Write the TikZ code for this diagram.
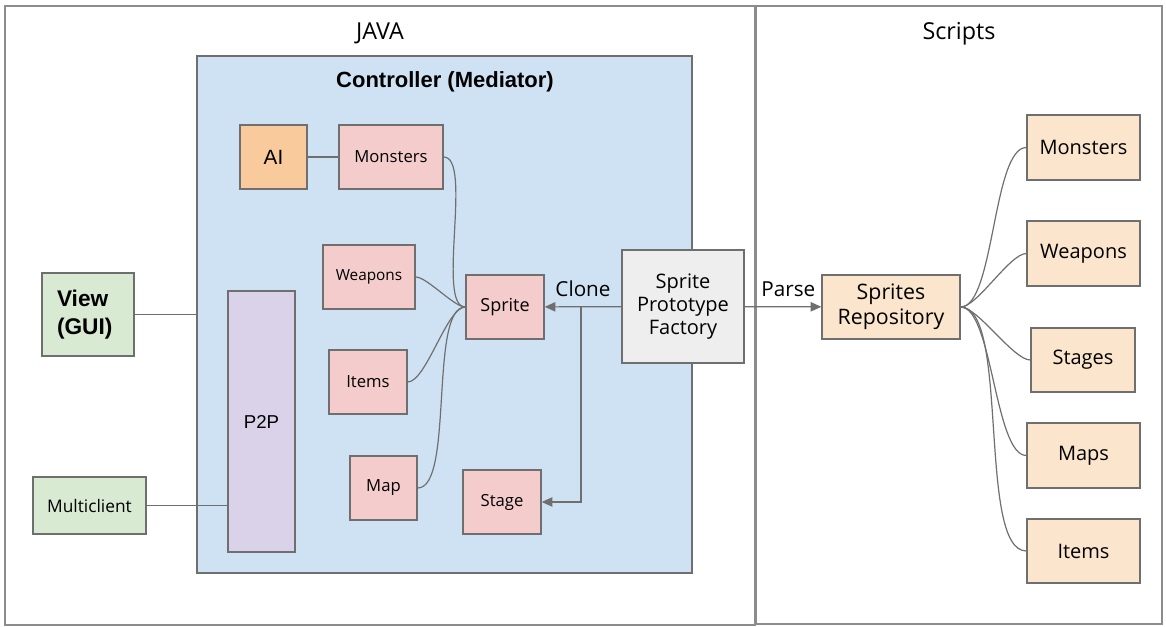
\documentclass[tikz,border=0pt]{standalone}
\usepackage{fontspec}
\setmainfont{Open Sans}
\newfontfamily\arialfont{Liberation Sans}
\usetikzlibrary{arrows.meta}
\definecolor{edgegray}{HTML}{6F6F6F}
\definecolor{framegray}{HTML}{8C8C8C}
\definecolor{ctrlblue}{HTML}{CFE2F3}
\definecolor{spritepink}{HTML}{F4CCCC}
\definecolor{aiorange}{HTML}{F9CB9C}
\definecolor{scriptpeach}{HTML}{FCE5CD}
\definecolor{viewgreen}{HTML}{D9EAD3}
\definecolor{netpurple}{HTML}{D9D2E9}
\definecolor{factorygray}{HTML}{EEEEEE}

\begin{document}
\begin{tikzpicture}[x=0.75pt,y=-0.75pt,
  box/.style 2 args={draw=edgegray, line width=1pt, minimum width=#1*0.75pt,
    minimum height=#2*0.75pt, inner sep=0pt, align=center},
  frame/.style 2 args={draw=framegray, line width=1.2pt, minimum width=#1*0.75pt,
    minimum height=#2*0.75pt, inner sep=0pt},
  pinkbox/.style={fill=spritepink, font=\fontsize{12.5}{15}\selectfont},
  peachbox/.style={fill=scriptpeach, font=\fontsize{15}{18}\selectfont},
  greenbox/.style={fill=viewgreen},
  title/.style={font=\fontsize{17.5}{20}\selectfont},
  link/.style={draw=edgegray, line width=0.9pt},
  arr/.style={link, -{Triangle[length=8pt,width=7pt]}},
  lbl/.style={font=\fontsize{15.5}{18}\selectfont, inner sep=2pt}]

  \useasboundingbox (0,0) rectangle (1166,627);
  \fill[white] (0,0) rectangle (1166,627);

  % the two sides
  \node[frame={750}{619}] (java) at (380,315.5) {};
  \node[frame={406}{618}] (scripts) at (959,315) {};
  \node[title] (javat) at (380,33) {JAVA};
  \node[title] (scriptst) at (959,34) {Scripts};

  % controller
  \node[box={495}{517}, fill=ctrlblue] (ctrl) at (444.5,314.5) {};
  \node[font=\arialfont\bfseries\fontsize{16.5}{20}\selectfont] (ctrlt) at (445,82) {Controller (Mediator)};

  \node[box={67}{64}, fill=aiorange, font=\arialfont\fontsize{15.5}{18}\selectfont] (ai) at (273.5,157) {AI};
  \node[box={104}{64}, pinkbox] (mon) at (391,157) {Monsters};
  \node[box={92}{64}, pinkbox, font=\fontsize{11.5}{14}\selectfont] (wea) at (369,277) {Weapons};
  \node[box={78}{64}, pinkbox, font=\fontsize{13.5}{16}\selectfont] (spr) at (505,307) {Sprite};
  \node[box={78}{64}, pinkbox] (itm) at (368,382) {Items};
  \node[box={67}{64}, pinkbox] (map) at (383.5,488) {Map};
  \node[box={78}{64}, pinkbox] (stg) at (502,502) {Stage};
  \node[box={67}{261}, fill=netpurple, font=\arialfont\fontsize{14}{17}\selectfont] (p2p) at (261.5,421.5) {P2P};
  \node[box={122}{113}, fill=factorygray, font=\fontsize{15}{17.5}\selectfont] (fac) at (683,306.5) {Sprite\\Prototype\\Factory};

  % clients
  \node[box={92}{83}, greenbox, font=\arialfont\bfseries\fontsize{17}{21}\selectfont,
    text width=62*0.75pt, align=left] (view) at (88,314.5) {View\\(GUI)};
  \node[box={113}{57}, greenbox, font=\fontsize{13}{15}\selectfont] (multi) at (89.5,505.5) {Multiclient};

  % scripts
  \node[box={138}{64}, peachbox, font=\fontsize{16}{19}\selectfont] (repo) at (891,307) {Sprites\\Repository};
  \node[box={113}{65}, peachbox] (smon) at (1083.5,147.5) {Monsters};
  \node[box={113}{65}, peachbox] (swea) at (1083.5,253.5) {Weapons};
  \node[box={104}{64}, peachbox] (sstg) at (1083,360) {Stages};
  \node[box={113}{65}, peachbox] (smap) at (1083.5,455.5) {Maps};
  \node[box={113}{64}, peachbox] (sitm) at (1083.5,551) {Items};

  % connectors
  \draw[link] (ai) -- (mon);
  \draw[link] (view) -- (view -| ctrl.west);
  \draw[link] (multi) -- (multi -| p2p.west);
  \foreach \n in {mon,wea,itm,map}
    \draw[link] (\n.east) to[out=0,in=180,looseness=0.5] (spr.west);
  \draw[arr] (fac) -- node[lbl, above=5pt] {Clone} (spr);
  \coordinate (split) at (581,307);
  \draw[arr] (split) |- (stg);
  \draw[arr] (fac) -- node[lbl, above=5pt, pos=0.57] {Parse} (repo);
  \foreach \n in {smon,swea,sstg,smap,sitm}
    \draw[link] (repo.east) to[out=0,in=180,looseness=0.5] (\n.west);
\end{tikzpicture}
\end{document}
